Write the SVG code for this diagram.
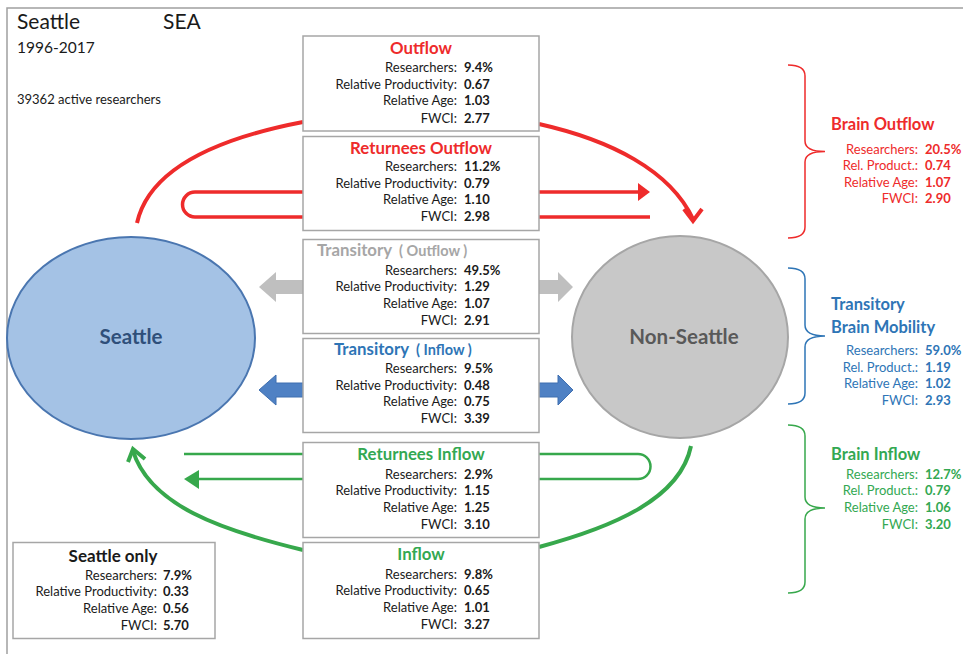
<svg xmlns="http://www.w3.org/2000/svg" width="963" height="654" viewBox="0 0 963 654">
<style>
text{font-family:Lato,"Open Sans","DejaVu Sans",sans-serif;}
.lab{font-size:13px;fill:#1a1a1a;text-anchor:end;}
.val{font-size:13px;fill:#1a1a1a;font-weight:bold;}
.ttl{font-size:16.8px;font-weight:bold;text-anchor:middle;}
.box{fill:#fff;stroke:#a6a6a6;stroke-width:1.5;}
.red{fill:#ee2b2b;}
.grn{fill:#33a852;}
.blu{fill:#2e75b6;}
.gry{fill:#a6a6a6;}
.rl{fill:none;stroke:#ee2b2b;}
.gl{fill:none;stroke:#37a84c;}
.brace{fill:none;stroke-width:1.5;}
.bt{font-size:16.5px;font-weight:bold;}
</style>
<rect x="7" y="8" width="970" height="660" fill="#fff" stroke="#a0a0a0" stroke-width="1.5"/>
<g id="header">
<text x="17" y="29" font-size="21" fill="#1a1a1a">Seattle</text>
<text x="163" y="29" font-size="21" fill="#1a1a1a">SEA</text>
<text x="17" y="53" font-size="15.5" fill="#1a1a1a">1996-2017</text>
<text x="17" y="104" font-size="13" fill="#1a1a1a">39362 active researchers</text>
</g>
<g id="connectors">
<path class="rl" stroke-width="4" d="M137,223 C150,165 225,137 303,122"/>
<path class="rl" stroke-width="4" d="M539,124 C610,140 670,170 693,219"/>
<polyline class="rl" stroke-width="4" points="684,209 693,221 702,209"/>
<path class="rl" stroke-width="3.5" d="M303,192 H195 A12.5,12.5 0 0 0 195,217 H303"/>
<path class="rl" stroke-width="3.5" d="M539,192 H640 M539,217 H650"/>
<polygon fill="#ee2b2b" points="638,183 650,192 638,201"/>
<polygon fill="#bfbfbf" points="259,287 276,272 276,280 303,280 303,294 276,294 276,302"/>
<polygon fill="#bfbfbf" points="539,280 558,280 558,272 573,287 558,302 558,294 539,294"/>
<polygon fill="#4f81c4" stroke="#3f6fb0" stroke-width="1" points="259,390 276,375 276,383 303,383 303,397 276,397 276,405"/>
<polygon fill="#4f81c4" stroke="#3f6fb0" stroke-width="1" points="539,383 558,383 558,375 573,390 558,405 558,397 539,397"/>
<path class="gl" stroke-width="2.5" d="M184,454 H303 M539,454 H638 A12.5,12.5 0 0 1 638,479 H539 M303,479 H196"/>
<polygon fill="#37a84c" points="184,479 199,470 199,489"/>
<path class="gl" stroke-width="4" d="M691,446 C680,500 610,528 539,547"/>
<path class="gl" stroke-width="4" d="M303,550 C220,530 150,505 133,451"/>
<polyline class="gl" stroke-width="4" points="128,462 133,449 145,459"/>
</g>
<g id="seattle">
<ellipse cx="131" cy="338" rx="124" ry="101" fill="#a4c2e5" stroke="#4a76b0" stroke-width="2"/>
<text x="131" y="344" font-size="20.5" font-weight="bold" fill="#2f4f7a" text-anchor="middle">Seattle</text>
</g>
<g id="non-seattle">
<ellipse cx="680" cy="337" rx="108" ry="101" fill="#c8c8c8" stroke="#a6a6a6" stroke-width="2"/>
<text x="684" y="344" font-size="20.5" font-weight="bold" fill="#595959" text-anchor="middle">Non-Seattle</text>
</g>
<g id="outflow">
<rect class="box" x="303" y="36" width="236" height="95"/>
<text class="ttl red" x="421" y="54">Outflow</text>
<text class="lab" x="457" y="72">Researchers:</text><text class="val" x="464" y="72">9.4%</text>
<text class="lab" x="457" y="88.5">Relative Productivity:</text><text class="val" x="464" y="88.5">0.67</text>
<text class="lab" x="457" y="105">Relative Age:</text><text class="val" x="464" y="105">1.03</text>
<text class="lab" x="457" y="122.5">FWCI:</text><text class="val" x="464" y="122.5">2.77</text>
</g>
<g id="returnees-outflow">
<rect class="box" x="303" y="136.5" width="236" height="94"/>
<text class="ttl red" x="421" y="153.5">Returnees Outflow</text>
<text class="lab" x="457" y="171">Researchers:</text><text class="val" x="464" y="171">11.2%</text>
<text class="lab" x="457" y="187.5">Relative Productivity:</text><text class="val" x="464" y="187.5">0.79</text>
<text class="lab" x="457" y="204">Relative Age:</text><text class="val" x="464" y="204">1.10</text>
<text class="lab" x="457" y="221">FWCI:</text><text class="val" x="464" y="221">2.98</text>
</g>
<g id="transitory-outflow">
<rect class="box" x="303" y="239.5" width="236" height="94"/>
<text x="317" y="256" font-weight="bold" class="gry"><tspan font-size="16.8">Transitory</tspan><tspan font-size="14.5" dx="7">( Outflow )</tspan></text>
<text class="lab" x="457" y="274.5">Researchers:</text><text class="val" x="464" y="274.5">49.5%</text>
<text class="lab" x="457" y="291">Relative Productivity:</text><text class="val" x="464" y="291">1.29</text>
<text class="lab" x="457" y="307.5">Relative Age:</text><text class="val" x="464" y="307.5">1.07</text>
<text class="lab" x="457" y="324.5">FWCI:</text><text class="val" x="464" y="324.5">2.91</text>
</g>
<g id="transitory-inflow">
<rect class="box" x="303" y="338.5" width="236" height="94"/>
<text x="334" y="355" font-weight="bold" class="blu"><tspan font-size="16.8">Transitory</tspan><tspan font-size="14.5" dx="7">( Inflow )</tspan></text>
<text class="lab" x="457" y="373">Researchers:</text><text class="val" x="464" y="373">9.5%</text>
<text class="lab" x="457" y="389.5">Relative Productivity:</text><text class="val" x="464" y="389.5">0.48</text>
<text class="lab" x="457" y="406">Relative Age:</text><text class="val" x="464" y="406">0.75</text>
<text class="lab" x="457" y="423">FWCI:</text><text class="val" x="464" y="423">3.39</text>
</g>
<g id="returnees-inflow">
<rect class="box" x="303" y="442.5" width="236" height="95"/>
<text class="ttl grn" x="421" y="459.5">Returnees Inflow</text>
<text class="lab" x="457" y="478.5">Researchers:</text><text class="val" x="464" y="478.5">2.9%</text>
<text class="lab" x="457" y="495">Relative Productivity:</text><text class="val" x="464" y="495">1.15</text>
<text class="lab" x="457" y="511.5">Relative Age:</text><text class="val" x="464" y="511.5">1.25</text>
<text class="lab" x="457" y="529">FWCI:</text><text class="val" x="464" y="529">3.10</text>
</g>
<g id="inflow">
<rect class="box" x="303" y="542.5" width="236" height="96"/>
<text class="ttl grn" x="421" y="560">Inflow</text>
<text class="lab" x="457" y="578.5">Researchers:</text><text class="val" x="464" y="578.5">9.8%</text>
<text class="lab" x="457" y="595">Relative Productivity:</text><text class="val" x="464" y="595">0.65</text>
<text class="lab" x="457" y="611.5">Relative Age:</text><text class="val" x="464" y="611.5">1.01</text>
<text class="lab" x="457" y="628.5">FWCI:</text><text class="val" x="464" y="628.5">3.27</text>
</g>
<g id="seattle-only">
<rect class="box" x="13" y="542.5" width="202" height="96"/>
<text x="113" y="562" font-size="17" font-weight="bold" fill="#1a1a1a" text-anchor="middle">Seattle only</text>
<text class="lab" x="157" y="579.5">Researchers:</text><text class="val" x="163" y="579.5">7.9%</text>
<text class="lab" x="157" y="596">Relative Productivity:</text><text class="val" x="163" y="596">0.33</text>
<text class="lab" x="157" y="612.5">Relative Age:</text><text class="val" x="163" y="612.5">0.56</text>
<text class="lab" x="157" y="629.5">FWCI:</text><text class="val" x="163" y="629.5">5.70</text>
</g>
<g id="brain-outflow">
<path class="brace" stroke="#ee2b2b" d="M788,65 Q805,65 805,76 V141 Q805,151.5 825,151.5 Q805,151.5 805,162 V227 Q805,238 788,238"/>
<text x="831" y="130" class="bt red">Brain Outflow</text>
<text class="lab red" x="918" y="153.5">Researchers:</text><text class="val red" x="925" y="153.5">20.5%</text>
<text class="lab red" x="918" y="170">Rel. Product.:</text><text class="val red" x="925" y="170">0.74</text>
<text class="lab red" x="918" y="186.5">Relative Age:</text><text class="val red" x="925" y="186.5">1.07</text>
<text class="lab red" x="918" y="203">FWCI:</text><text class="val red" x="925" y="203">2.90</text>
</g>
<g id="transitory-brain-mobility">
<path class="brace" stroke="#2e75b6" d="M788,268 Q805,268 805,279 V325 Q805,336 825,336 Q805,336 805,347 V393 Q805,404 788,404"/>
<text x="831" y="310" class="bt blu">Transitory</text>
<text x="831" y="332.5" class="bt blu">Brain Mobility</text>
<text class="lab blu" x="918" y="355">Researchers:</text><text class="val blu" x="925" y="355">59.0%</text>
<text class="lab blu" x="918" y="371.5">Rel. Product.:</text><text class="val blu" x="925" y="371.5">1.19</text>
<text class="lab blu" x="918" y="388">Relative Age:</text><text class="val blu" x="925" y="388">1.02</text>
<text class="lab blu" x="918" y="405">FWCI:</text><text class="val blu" x="925" y="405">2.93</text>
</g>
<g id="brain-inflow">
<path class="brace" stroke="#37a84c" d="M788,425 Q805,425 805,436 V497 Q805,508 825,508 Q805,508 805,519 V582 Q805,593 788,593"/>
<text x="831" y="459.5" class="bt grn">Brain Inflow</text>
<text class="lab grn" x="918" y="478.5">Researchers:</text><text class="val grn" x="925" y="478.5">12.7%</text>
<text class="lab grn" x="918" y="495">Rel. Product.:</text><text class="val grn" x="925" y="495">0.79</text>
<text class="lab grn" x="918" y="511.5">Relative Age:</text><text class="val grn" x="925" y="511.5">1.06</text>
<text class="lab grn" x="918" y="528.5">FWCI:</text><text class="val grn" x="925" y="528.5">3.20</text>
</g>
</svg>
